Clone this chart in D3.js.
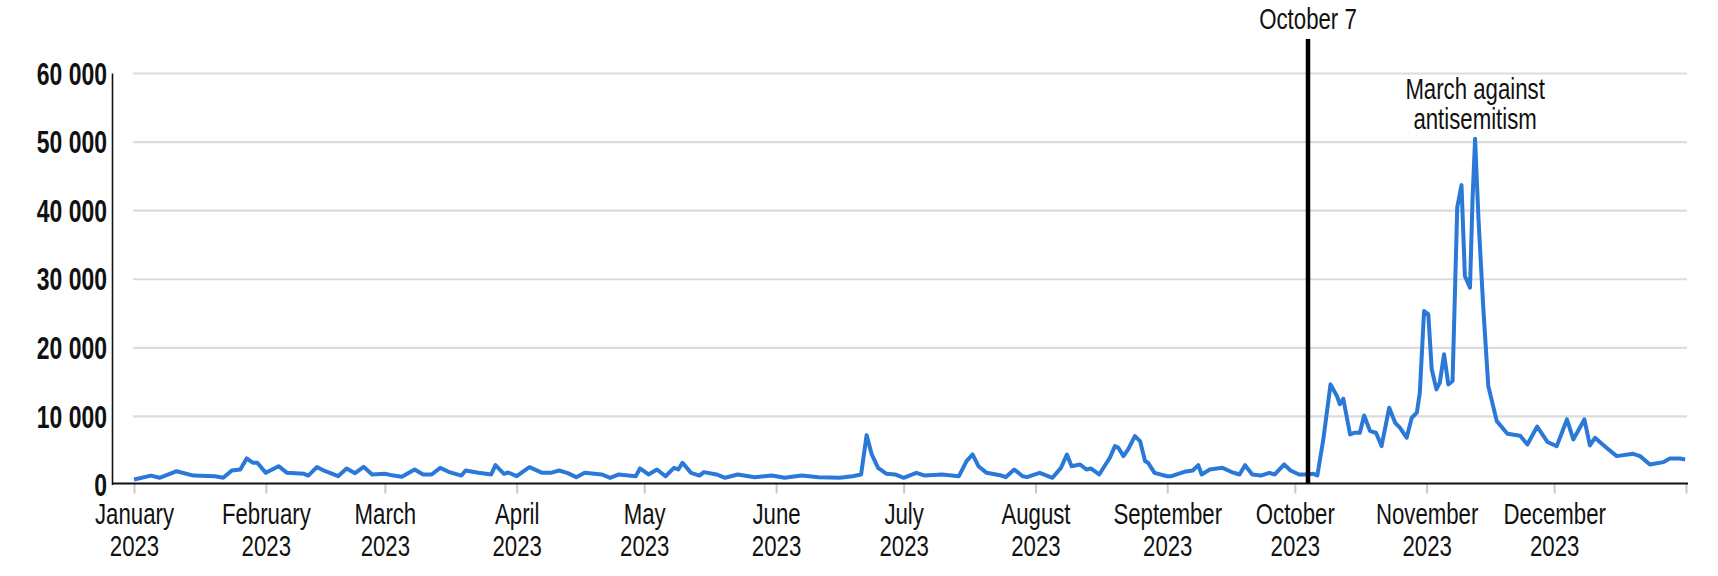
<!DOCTYPE html>
<html lang="en">
  <head>
    <meta charset="utf-8">
    <title></title>
    <script src="https://d3js.org/d3.v7.min.js"></script>
    <style type="text/css">
      body { margin: 0; background: #fff; }
      text { font-family: 'Liberation Sans', Arial, sans-serif; fill: #111; }
    </style>
  </head>
  <body>

  <svg width="1718" height="576" id="chart"></svg>

  <script>

    // day offsets from 1 January 2023 and daily counts
    var days = [0, 4, 6, 9, 10, 14, 19, 21, 23, 25, 26.5, 28, 29, 31, 34, 36, 40, 41, 43, 45,
      48, 50, 52, 54, 56, 59, 61, 63, 66, 68, 70, 72, 74, 77, 78, 81, 84, 85, 87, 88,
      90, 93, 96, 98, 100, 102, 104, 106, 110, 112, 114, 118, 119, 121, 123, 125, 127, 128, 129, 131,
      133, 134, 137, 139, 142, 146, 150, 153, 157, 161, 166, 169, 171, 172.3, 173.5, 175, 177, 179, 181, 184,
      186, 190, 194, 195.8, 197.2, 198.6, 200.5, 204, 205, 207, 209, 210, 213, 216, 218, 219.4, 220.5, 222.5, 224, 225,
      227, 229.5, 230.7, 231.5, 232.7, 233.8, 235.4, 236.6, 237.8, 238.5, 240, 243, 244, 247, 249, 250.3, 251.1, 253, 256, 258,
      260, 261.3, 263, 265, 267, 268.3, 270.5, 272, 274, 275.4, 277.4, 278.3, 279.7, 281.4, 282.9, 283.6, 284.4, 286, 287.1, 288.3,
      289.3, 290.7, 292.1, 293.4, 295.2, 296.6, 297.7, 299.3, 300.5, 301.7, 302.4, 303.4, 304.4, 305.2, 306.3, 307.1, 308.1, 309.1, 310.1, 311.2,
      312.2, 313, 314.2, 314.8, 315.4, 316.2, 317.3, 318.5, 320.5, 323, 326, 327.7, 330, 332.4, 334.6, 337, 338.5, 341.1, 342.4, 343.6,
      346.3, 348.7, 352.6, 354.2, 356.5, 359.7, 361.2, 363.6, 364.8];

    var counts = [730, 1300, 980, 1700, 1940, 1300, 1200, 980, 2040, 2190, 3800, 3160, 3160, 1700, 2670, 1700, 1560, 1300, 2530, 1940,
      1210, 2340, 1650, 2580, 1460, 1560, 1300, 1120, 2190, 1460, 1460, 2430, 1850, 1300, 2040, 1700, 1460, 2820, 1560, 1750,
      1210, 2530, 1700, 1700, 2040, 1650, 1070, 1700, 1460, 980, 1460, 1210, 2340, 1460, 2190, 1210, 2430, 2190, 3160, 1700,
      1300, 1800, 1460, 980, 1460, 1070, 1300, 980, 1300, 1070, 980, 1210, 1460, 7200, 4380, 2430, 1560, 1460, 980, 1700,
      1300, 1460, 1210, 3400, 4380, 2670, 1700, 1300, 1070, 2190, 1210, 1070, 1700, 980, 2430, 4380, 2670, 2920, 2190, 2340,
      1460, 3900, 5600, 5350, 4140, 5110, 7050, 6330, 3400, 3160, 1700, 1210, 1210, 1850, 2040, 2820, 1460, 2190, 2430, 1850,
      1460, 2820, 1460, 1300, 1700, 1460, 2920, 2040, 1460, 1460, 1560, 1310, 6570, 14600, 12900, 11700, 12500, 7300, 7550, 7550,
      10070, 7780, 7550, 5600, 11200, 9000, 8280, 6820, 9740, 10470, 13400, 25300, 24800, 16800, 13870, 14850, 19000, 14600, 15100, 40400,
      43650, 30400, 28700, 41600, 50400, 38700, 26000, 14350, 9240, 7400, 7100, 5840, 8450, 6200, 5600, 9490, 6570, 9490, 5700, 6800,
      5350, 4140, 4480, 4140, 2920, 3260, 3800, 3800, 3650];

    var months = ["January", "February", "March", "April", "May", "June",
      "July", "August", "September", "October", "November", "December"];
    var year = "2023";
    var yTicks = [0, 10000, 20000, 30000, 40000, 50000, 60000];

    var markerDay = 276.1;          // where the black line sits in the picture
    var markerLabel = "October 7";
    var peakLabel = ["March against", "antisemitism"];
    var peakDay = 315.4;

    var start = new Date(2023, 0, 1);
    var end = new Date(2024, 0, 1);
    var toDate = function(d) { return new Date(start.getTime() + d * 864e5); };

    var data = days.map(function(d, i) { return {date: toDate(d), value: counts[i]}; });

    // condensed look: squeeze Liberation Sans glyphs to 74% of their width
    var squeeze = 0.74;
    var narrow = function(sel) {
      sel.each(function() {
        var w = this.getComputedTextLength();
        d3.select(this).attr("textLength", w * squeeze).attr("lengthAdjust", "spacingAndGlyphs");
      });
    };

    var svg = d3.select("#chart");
    var axisX = 112;

    var xScale = d3.scaleTime().domain([start, end]).range([134, 1686]);
    var yScale = d3.scaleLinear().domain([0, 60000]).range([484.5, 73]);

    var fmt = d3.formatLocale({decimal: ".", thousands: " ", grouping: [3], currency: ["", ""]}).format(",");

    // gridlines
    svg.append("g")
      .attr("transform", `translate(${xScale.range()[0] - 1}, 0)`)
      .call(d3.axisRight(yScale).tickValues(yTicks.slice(1)).tickSize(xScale.range()[1] - xScale.range()[0] + 2).tickFormat(""))
      .call(function(g) { g.select(".domain").remove(); })
      .selectAll("line").attr("stroke", "#dcdcdc").attr("stroke-width", 2.2);

    // y axis
    var yAxis = svg.append("g")
      .attr("transform", `translate(${axisX}, 0)`)
      .call(d3.axisLeft(yScale).tickValues(yTicks).tickSize(0).tickFormat(fmt));
    yAxis.select(".domain").attr("stroke", "#111").attr("stroke-width", 1.6);
    yAxis.selectAll("text")
      .attr("font-size", 31)
      .attr("font-weight", "bold")
      .attr("font-family", null)
      .attr("x", -5)
      .attr("dy", "0.36em")
      .call(narrow);

    // x axis
    var monthStarts = d3.timeMonth.range(start, d3.timeDay.offset(end, 1));
    var xAxis = svg.append("g")
      .attr("transform", `translate(0, ${yScale(0) - 1})`)
      .call(d3.axisBottom(xScale).tickValues(monthStarts).tickSize(10).tickSizeOuter(0).tickFormat(""));
    xAxis.select(".domain").remove();
    xAxis.selectAll(".tick line").attr("stroke", "#c8c8c8").attr("stroke-width", 2);
    xAxis.append("line")
      .attr("x1", axisX).attr("x2", xScale.range()[1] + 2)
      .attr("stroke", "#111").attr("stroke-width", 2);

    var monthText = xAxis.selectAll(".tick")
      .filter(function(d, i) { return i < months.length; })
      .append("text")
      .attr("text-anchor", "middle")
      .attr("font-size", 30)
      .attr("font-family", null);
    monthText.append("tspan").attr("x", 0).attr("y", 40).text(function(d, i) { return months[i]; }).call(narrow);
    monthText.append("tspan").attr("x", 0).attr("y", 72).text(year).call(narrow);

    // series
    var line = d3.line()
      .x(function(d) { return xScale(d.date); })
      .y(function(d) { return yScale(d.value); });

    svg.append("path")
      .datum(data)
      .attr("d", line)
      .attr("fill", "none")
      .attr("stroke", "#2a78d8")
      .attr("stroke-width", 4)
      .attr("stroke-linejoin", "round");

    // October 7 marker
    var mx = xScale(toDate(markerDay));
    svg.append("line")
      .attr("x1", mx).attr("x2", mx)
      .attr("y1", 39).attr("y2", yScale(0) - 1)
      .attr("stroke", "#000").attr("stroke-width", 4.5);
    svg.append("text")
      .attr("x", mx).attr("y", 29)
      .attr("text-anchor", "middle")
      .attr("font-size", 30)
      .text(markerLabel)
      .call(narrow);

    // peak annotation
    var px = xScale(toDate(peakDay));
    svg.append("text")
      .attr("text-anchor", "middle")
      .attr("font-size", 30)
      .selectAll("tspan").data(peakLabel).enter().append("tspan")
      .attr("x", px)
      .attr("y", function(d, i) { return 99 + i * 30; })
      .text(function(d) { return d; })
      .call(narrow);

  </script>

  </body>
</html>
